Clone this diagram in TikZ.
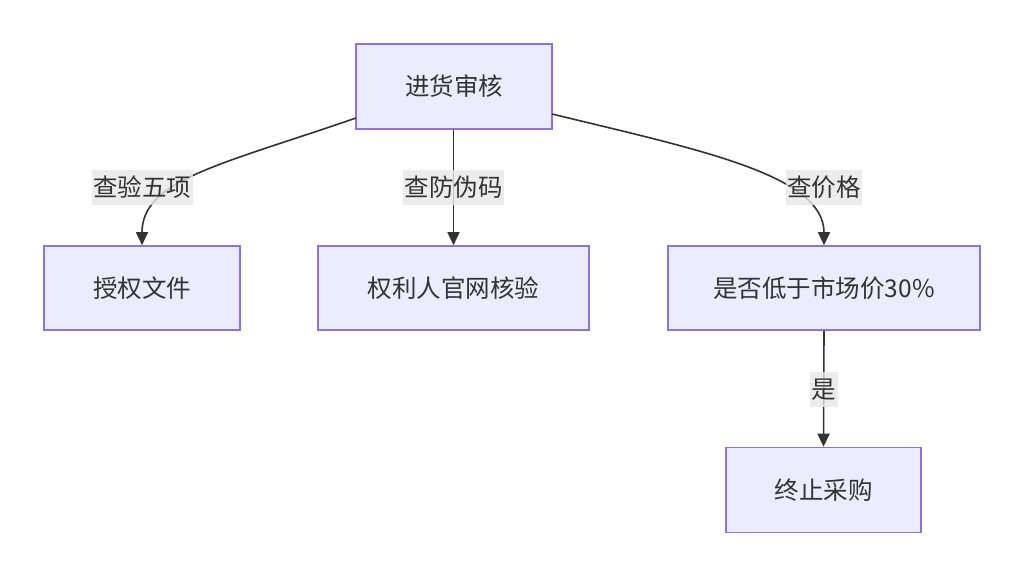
\documentclass[tikz,border=0pt]{standalone}
\usepackage{fontspec}
\newfontfamily\cjk{Noto Sans CJK SC}
\usetikzlibrary{arrows.meta}
\definecolor{nodefill}{HTML}{ECECFF}
\definecolor{nodeline}{HTML}{9370DB}
\definecolor{edgecol}{HTML}{333333}
\definecolor{lblbg}{HTML}{E8E8E8}
\tikzset{
  box/.style={draw=nodeline, fill=nodefill, line width=1.6pt, inner sep=0pt,
    text=edgecol, font=\cjk\fontsize{24.5}{28}\selectfont},
  edge/.style={draw=edgecol, line width=1.6pt, -{Triangle[length=13pt,width=12pt]}},
  lbl/.style={fill=lblbg, fill opacity=0.8, text opacity=1, text=edgecol,
    inner xsep=1.5pt, inner ysep=0pt, minimum height=35pt,
    font=\cjk\fontsize{24.5}{28}\selectfont},
}
\begin{document}
\begin{tikzpicture}[x=1pt,y=-1pt]
\useasboundingbox[fill=white] (0,0) rectangle (1024,577);
\node[box, minimum width=196pt, minimum height=85pt] (top) at (454,86.5) {进货审核};
\node[box, minimum width=196pt, minimum height=84pt] (a) at (142,288) {授权文件};
\node[box, minimum width=271pt, minimum height=84pt] (b) at (453.5,288) {权利人官网核验};
\node[box, minimum width=312pt, minimum height=84pt] (c) at (824,288) {是否低于市场价30\%};
\node[box, minimum width=195pt, minimum height=85pt] (d) at (823.5,490) {终止采购};
\coordinate (s1) at (356,118);
\coordinate (s3) at (552,114);
\draw[edge] (s1) .. controls (220,165) and (142,180) .. (a.north);
\draw[edge] (top.south -| b.north) -- (b.north);
\draw[edge] (s3) .. controls (700,150) and (824,175) .. (c.north);
\draw[edge] (c.south) -- (d.north);
\node[lbl] (l1) at (142,187.5) {查验五项};
\node[lbl] (l2) at (453.5,187.5) {查防伪码};
\node[lbl] (l3) at (824,187.5) {查价格};
\node[lbl] (l4) at (824,389.5) {是};
\end{tikzpicture}
\end{document}
